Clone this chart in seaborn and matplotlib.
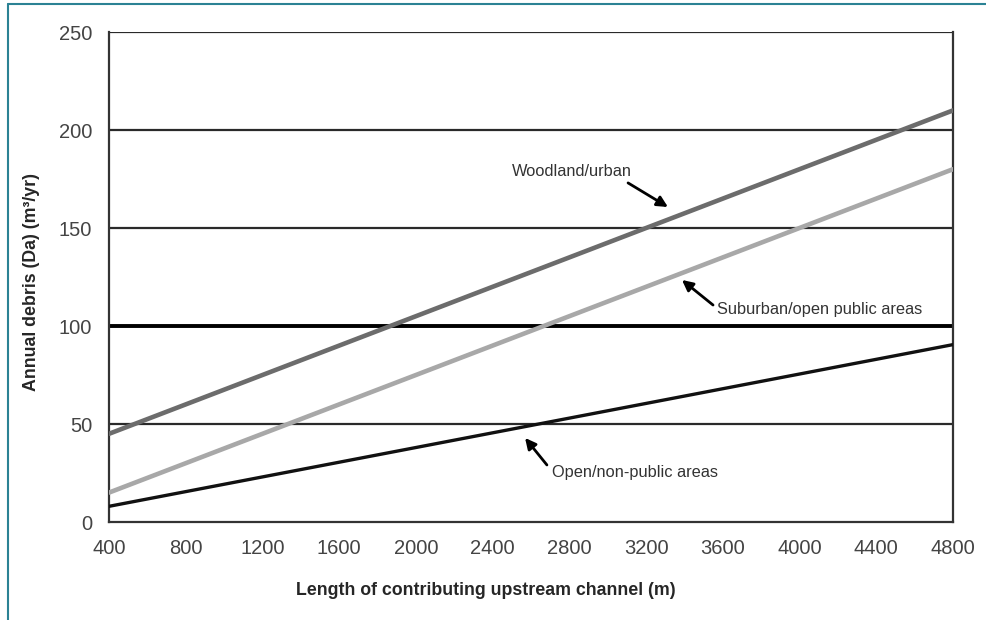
import matplotlib
matplotlib.use("Agg")
import matplotlib.pyplot as plt
import matplotlib.lines as mlines
import pandas as pd
import seaborn as sns

# ── Data ─────────────────────────────────────────────────────────────────────
channel_length = [400, 800, 1200, 1600, 2000, 2400, 2800, 3200, 3600, 4000, 4400, 4800]
woodland_urban = [45, 60, 75, 90, 105, 120, 135, 150, 165, 180, 195, 210]
suburban_open  = [15, 30, 45, 60, 75, 90, 105, 120, 135, 150, 165, 180]
open_nonpublic = [8, 15.5, 23, 30.5, 38, 45.5, 53, 60.5, 68, 75.5, 83, 90.5]

series_names = ["Woodland/urban", "Suburban/open public areas", "Open/non-public areas"]
x_ticks = [400, 800, 1200, 1600, 2000, 2400, 2800, 3200, 3600, 4000, 4400, 4800]
y_ticks = [0, 50, 100, 150, 200, 250]

df = pd.DataFrame({
    "length": channel_length * 3,
    "debris": woodland_urban + suburban_open + open_nonpublic,
    "series": [n for n in series_names for _ in channel_length],
})

# ── Style ────────────────────────────────────────────────────────────────────
sns.set_style("white")
plt.rcParams["font.family"] = ["Liberation Sans", "DejaVu Sans"]

colors = {
    "Woodland/urban": "#6c6c6c",
    "Suburban/open public areas": "#a8a8a8",
    "Open/non-public areas": "#111111",
}
widths = {
    "Woodland/urban": 3.3,
    "Suburban/open public areas": 3.3,
    "Open/non-public areas": 2.4,
}

fig = plt.figure(figsize=(9.87, 6.2), dpi=100)
ax = fig.add_axes([109 / 987, 98 / 620, 844 / 987, 490 / 620])

# horizontal gridlines (100 is drawn heavier)
for y in y_ticks[1:]:
    ax.axhline(y, color="black" if y == 100 else "#2a2a2a",
               lw=2.8 if y == 100 else 1.6, zorder=1)

for name in series_names:
    sub = df[df["series"] == name]
    sns.lineplot(data=sub, x="length", y="debris", ax=ax, color=colors[name],
                 lw=widths[name], legend=False, zorder=3)

ax.set_xlim(400, 4800)
ax.set_ylim(0, 250)
ax.set_xticks(x_ticks)
ax.set_yticks(y_ticks)
ax.tick_params(axis="both", direction="out", length=4, width=1.5, color="#333333",
               labelsize=14.5, labelcolor="#444444")
ax.tick_params(axis="x", pad=8)
ax.tick_params(axis="y", pad=8)

for side in ["left", "right", "bottom"]:
    ax.spines[side].set_color("#333333")
    ax.spines[side].set_linewidth(1.6)
ax.spines["top"].set_visible(False)

ax.set_xlabel("Length of contributing upstream channel (m)", fontsize=12.8,
              color="#262626", fontweight="bold")
ax.set_ylabel("Annual debris (Da) (m³/yr)", fontsize=12.8, color="#262626",
              fontweight="bold")
ax.xaxis.set_label_coords(0.447, -0.122)
ax.yaxis.set_label_coords(-0.082, 0.49)

# ── Annotations ──────────────────────────────────────────────────────────────
label_pos = [(2501, 178.6), (3570, 108.2), (2709, 25.5)]
arrow_tail = [(3106, 173), (3549, 110.7), (2683, 29.1)]
arrow_head = [(3314, 160.7), (3387, 123.5), (2569, 42.9)]

for name, tp, tail, head in zip(series_names, label_pos, arrow_tail, arrow_head):
    ax.text(tp[0], tp[1], name, fontsize=11.8, color="#333333",
            ha="left", va="center", zorder=5)
    ax.annotate("", xy=head, xytext=tail, zorder=5,
                arrowprops=dict(arrowstyle="-|>", color="black", lw=2,
                                mutation_scale=16, shrinkA=0, shrinkB=0))

# teal frame around the figure (top and left edges visible)
frame_color = "#2b8294"
fig.add_artist(mlines.Line2D([8 / 987, 8 / 987], [0, 1 - 4 / 620],
                             color=frame_color, lw=1.5))
fig.add_artist(mlines.Line2D([8 / 987, 1], [1 - 4 / 620, 1 - 4 / 620],
                             color=frame_color, lw=1.5))

fig.savefig("out.png", dpi=100)
plt.close(fig)
